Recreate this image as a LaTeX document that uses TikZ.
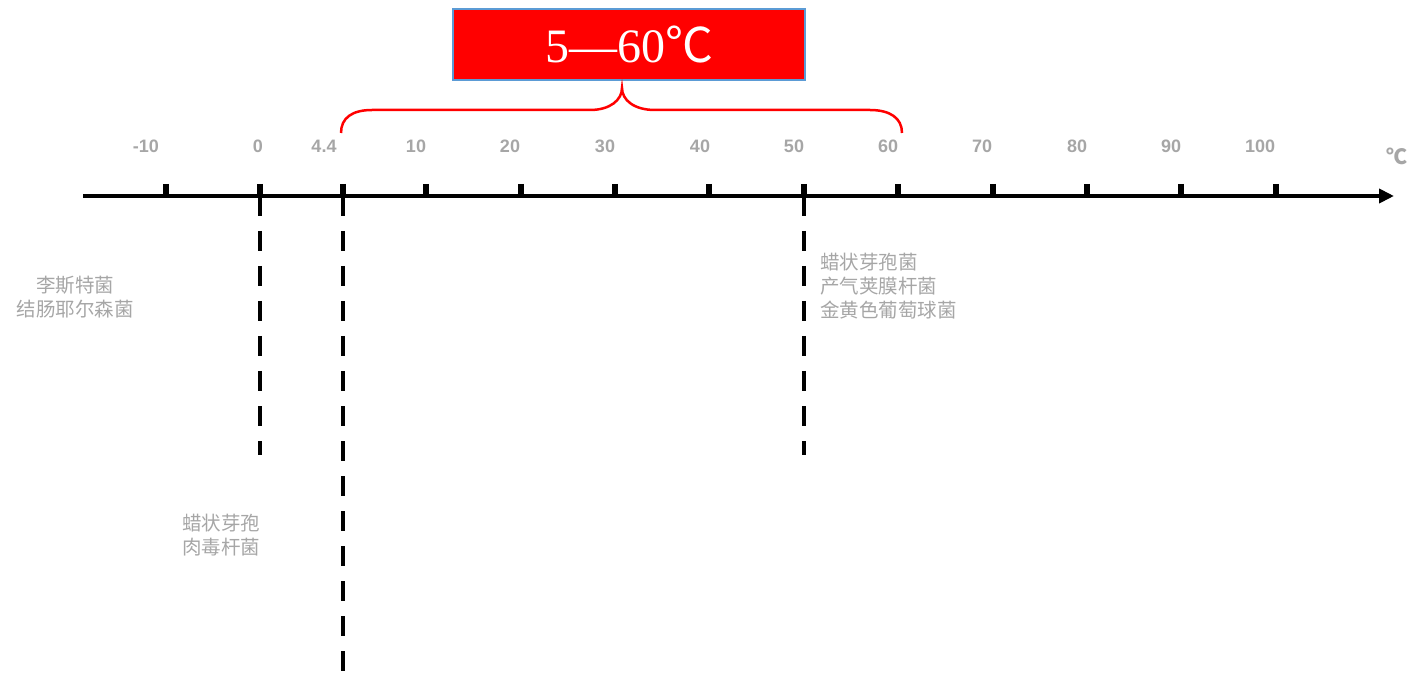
\documentclass[tikz,border=0pt]{standalone}
\usepackage{fontspec}
\setmainfont{Liberation Serif}
\newfontfamily\sansf{Liberation Sans}
\newfontfamily\cjk{Noto Sans CJK SC}
\usetikzlibrary{arrows.meta}
\definecolor{tickgray}{HTML}{A6A6A6}
\definecolor{boxblue}{HTML}{5B9BD5}

\begin{document}
\begin{tikzpicture}[x=1pt,y=-1pt,
  ticklabel/.style={font=\sansf\bfseries\fontsize{18}{20}\selectfont, text=tickgray, inner sep=0pt},
  bug/.style={font=\cjk\fontsize{19.5}{24}\selectfont, text=tickgray, inner sep=0pt, align=center},
  limit/.style={line width=4.5pt, dash pattern=on 20pt off 15pt}]
\useasboundingbox (0,0) rectangle (1424,684);
\def\ya{196} %height of the axis
\def\yl{146} %height of the tick labels
\coordinate (axL) at (83,\ya);
\coordinate (axR) at (1394,\ya);
\draw [line width=4.5pt, -{Triangle[length=15pt,width=14pt]}] (axL) -- (axR);
% ticks with their labels
\foreach \t/\xt/\xl in {-10/166/146, 0/260/258, 4.4/343/324, 10/426/416,
    20/521/510, 30/615/605, 40/709/700, 50/804/794, 60/898/888,
    70/993/982, 80/1087/1077, 90/1181/1171, 100/1276/1260}
{
\coordinate (t\xt) at (\xt,\ya);
\draw [line width=5.5pt] (\xt,184) -- (t\xt);
\node [ticklabel] (l\xt) at (\xl,\yl) {\t};
}
\node [font=\cjk\fontsize{21}{22}\selectfont, text=tickgray, inner sep=0pt] (unit) at (1397,156) {\textbf{℃}};

% dashed limits
\coordinate (d260) at (260,455);
\coordinate (d343) at (343,672);
\coordinate (d804) at (804,455);
\draw [limit] (t260) -- (d260);
\draw [limit] (t343) -- (d343);
\draw [limit] (t804) -- (d804);

% the danger range
\node [fill=red, draw=boxblue, line width=1.5pt, minimum width=352pt, minimum height=71pt,
       inner sep=0pt, text=white, font=\fontsize{48}{50}\selectfont]
  (range) at (629,44.5) {5—60{\cjk ℃}};
\coordinate (brL) at (341,133);
\coordinate (brR) at (902,133);
\coordinate (brTip) at (622,88);
\draw [red, line width=2.5pt] (brL) .. controls (341,118) and (352,110) .. (372,110) -- (590,110)
  .. controls (610,110) and (622,100) .. (brTip)
  .. controls (622,100) and (634,110) .. (655,110) -- (870,110)
  .. controls (890,110) and (902,118) .. (brR);

% bacteria
\node [bug] (cold) at (75,297) {李斯特菌\\结肠耶尔森菌};
\node [bug] (spore) at (221,535) {蜡状芽孢\\肉毒杆菌};
\node [bug, align=left, anchor=west] (warm) at (820,286) {蜡状芽孢菌\\产气荚膜杆菌\\金黄色葡萄球菌};
\end{tikzpicture}
\end{document}
